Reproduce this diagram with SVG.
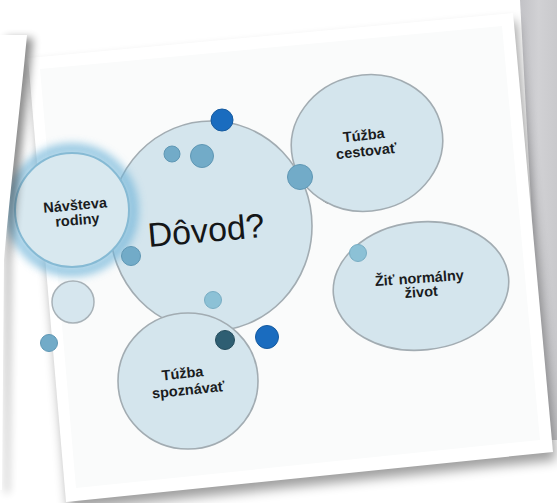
<svg xmlns="http://www.w3.org/2000/svg" width="557" height="503" viewBox="0 0 557 503">
  <defs>
    <style>
      .bub{fill:#d4e5ed;stroke:#a2acb2;stroke-width:1.6}
      .lbl{font-family:"Liberation Sans",Arial,sans-serif;font-weight:bold;font-size:14.5px;fill:#1a1c1e;text-anchor:middle}
      .big{font-family:"Liberation Sans",Arial,sans-serif;font-size:34px;fill:#141618;text-anchor:middle}
      .dot-light{fill:#72abc8;stroke:#5f97b4;stroke-width:1}
      .dot-pale{fill:#8cc1d6;stroke:#78adc3;stroke-width:1}
      .dot-blue{fill:#1a6cbf;stroke:#155a9f;stroke-width:1}
      .dot-teal{fill:#2e5e72;stroke:#244c5c;stroke-width:1}
    </style>
    <filter id="blur6" x="-20%" y="-20%" width="140%" height="140%">
      <feGaussianBlur stdDeviation="6"/>
    </filter>
    <filter id="blur4" x="-30%" y="-10%" width="160%" height="120%">
      <feGaussianBlur stdDeviation="4"/>
    </filter>
    <filter id="glow" x="-30%" y="-30%" width="160%" height="160%">
      <feGaussianBlur stdDeviation="4"/>
    </filter>
    <linearGradient id="greyPage" x1="0" y1="0" x2="1" y2="0">
      <stop offset="0" stop-color="#c2c2c6"/>
      <stop offset="0.5" stop-color="#d1d1d4"/>
      <stop offset="1" stop-color="#c9c9cc"/>
    </linearGradient>
  </defs>

  <!-- table / background -->
  <rect width="557" height="503" fill="#ffffff"/>

  <!-- grey sheet on the right -->
  <polygon points="520,0 557,0 557,440 544,440" fill="url(#greyPage)"/>

  <!-- slide sheet with its soft shadow -->
  <g id="slide">
    <polygon points="28,58 513,13 553,452 66,502" fill="#000" opacity="0.38" filter="url(#blur6)" transform="translate(3,8)"/>
    <polygon points="28,58 513,13 553,452 66,502" fill="#ffffff"/>
    <polygon points="40,69 502,26 540,440 76,488" fill="#fafbfb"/>
  </g>

  <!-- decorative bubble tucked behind a node -->
  <g id="dots-back">
    <circle cx="330" cy="195" r="9" fill="#2b2f33"/>
  </g>

  <g id="connectors"></g>

  <g id="node-dovod">
    <ellipse class="bub" cx="211" cy="226" rx="101" ry="105"/>
    <text class="big" x="206" y="242" transform="rotate(-5 206 230)">Dôvod?</text>
  </g>

  <g id="node-navsteva">
    <circle cx="72" cy="210" r="61" fill="none" stroke="#6cb2d8" stroke-width="11" opacity="0.7" filter="url(#glow)"/>
    <circle cx="72" cy="210" r="57" fill="#d8e8ef" stroke="#86bad4" stroke-width="2"/>
    <g transform="rotate(-5 76 216)">
      <text class="lbl" x="76" y="210">Návšteva</text>
      <text class="lbl" x="77" y="225">rodiny</text>
    </g>
  </g>

  <g id="node-cestovat">
    <ellipse class="bub" cx="367" cy="143" rx="76" ry="68" transform="rotate(-12 367 143)"/>
    <g transform="rotate(-6 366 147)">
      <text class="lbl" x="365" y="140">Túžba</text>
      <text class="lbl" x="366" y="156">cestovať</text>
    </g>
  </g>

  <g id="node-zit">
    <ellipse class="bub" cx="421" cy="286" rx="88" ry="64" transform="rotate(-6 421 286)"/>
    <g transform="rotate(-4 420 289)">
      <text class="lbl" x="420" y="283">Žiť normálny</text>
      <text class="lbl" x="421" y="297">život</text>
    </g>
  </g>

  <g id="node-spoznavat">
    <ellipse class="bub" cx="188" cy="381" rx="70" ry="68"/>
    <g transform="rotate(-6 186 387)">
      <text class="lbl" x="184" y="378">Túžba</text>
      <text class="lbl" x="188" y="395">spoznávať</text>
    </g>
  </g>

  <!-- small decorative bubbles -->
  <g id="dots">
    <circle class="dot-blue" cx="222" cy="120" r="11"/>
    <circle class="dot-light" cx="172" cy="154" r="8"/>
    <circle class="dot-light" cx="202" cy="156" r="11.5"/>
    <circle class="dot-light" cx="300" cy="177" r="12.5"/>
    <circle class="dot-light" cx="131" cy="256" r="9.5"/>
    <circle cx="73" cy="302" r="21" fill="#d6e6ee" stroke="#a8b2b8" stroke-width="1.5"/>
    <circle class="dot-light" cx="49" cy="343" r="8.5"/>
    <circle class="dot-pale" cx="358" cy="253" r="8.5"/>
    <circle class="dot-pale" cx="213" cy="300" r="8.5"/>
    <circle class="dot-teal" cx="225" cy="340" r="9.5"/>
    <circle class="dot-blue" cx="267" cy="337" r="11.5"/>
  </g>

  <!-- sheet lying on top at the left, with its shadow -->
  <g id="left-sheet">
    <path d="M0,35 L27,35 C20,110 10,190 4,260 L2,490 L0,490 Z" fill="#000" opacity="0.45" filter="url(#blur4)" transform="translate(6,3)"/>
    <path d="M0,35 L27,35 C20,110 10,190 4,260 L2,490 L0,490 Z" fill="#ffffff"/>
  </g>
</svg>
